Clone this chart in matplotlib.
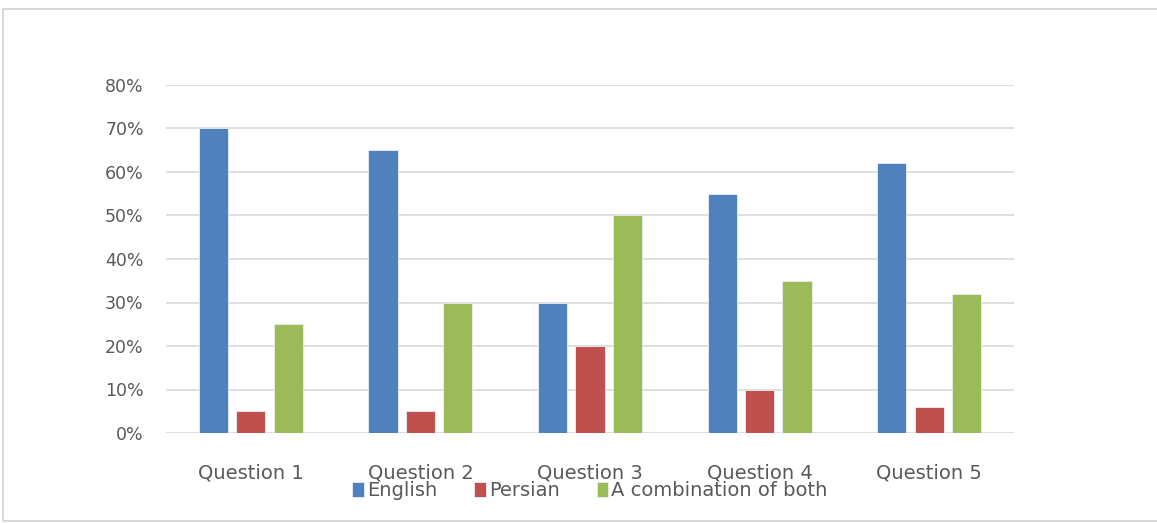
import matplotlib
matplotlib.use("Agg")
import matplotlib.pyplot as plt
from matplotlib.patches import Rectangle
from matplotlib.ticker import FuncFormatter
import numpy as np

categories = ["Question 1", "Question 2", "Question 3", "Question 4", "Question 5"]
english = [70, 65, 30, 55, 62]
persian = [5, 5, 20, 10, 6]
combination = [25, 30, 50, 35, 32]
series_names = ["English", "Persian", "A combination of both"]
colors = ["#4F81BD", "#C0504D", "#9BBB59"]

plt.rcParams["font.family"] = ["DejaVu Sans"]

fig = plt.figure(figsize=(11.57, 5.23), dpi=100)
ax = fig.add_axes([166/1157, 1-433/523, (1014-166)/1157, (433-85)/523])

x = np.arange(len(categories))
w = 0.172
off = 0.221
for i, (vals, name, c) in enumerate(zip([english, persian, combination], series_names, colors)):
    ax.bar(x + (i-1)*off, vals, width=w, color=c, edgecolor="#e8eef7", linewidth=0.6, label=name, zorder=3)

ax.set_xlim(-0.5, len(categories)-0.5)
ax.set_ylim(0, 80)
ax.set_yticks(range(0, 81, 10))
ax.yaxis.set_major_formatter(FuncFormatter(lambda v, p: f"{int(v)}%"))
ax.grid(axis="y", color="#d9d9d9", linewidth=1.2, zorder=0)
for s in ax.spines.values():
    s.set_visible(False)
ax.tick_params(axis="both", length=0, colors="#595959")
ax.tick_params(axis="y", pad=16, labelsize=12.5)
ax.tick_params(axis="x", pad=22, labelsize=14)
ax.set_xticks(x)
ax.set_xticklabels(categories)
for t in ax.get_xticklabels() + ax.get_yticklabels():
    t.set_color("#595959")

leg = fig.legend(loc="center", bbox_to_anchor=(590/1157, 1-491/523), ncol=3, frameon=False,
                 fontsize=14, handlelength=0.6, handleheight=0.8, handletextpad=0.15,
                 columnspacing=1.9, labelcolor="#595959")

fig.patches.append(Rectangle((3/1157, 1-521/523), 1.1, (521-9)/523, transform=fig.transFigure,
                             fill=False, edgecolor="#d9d9d9", linewidth=1.5))

fig.savefig("out.png", dpi=100)
